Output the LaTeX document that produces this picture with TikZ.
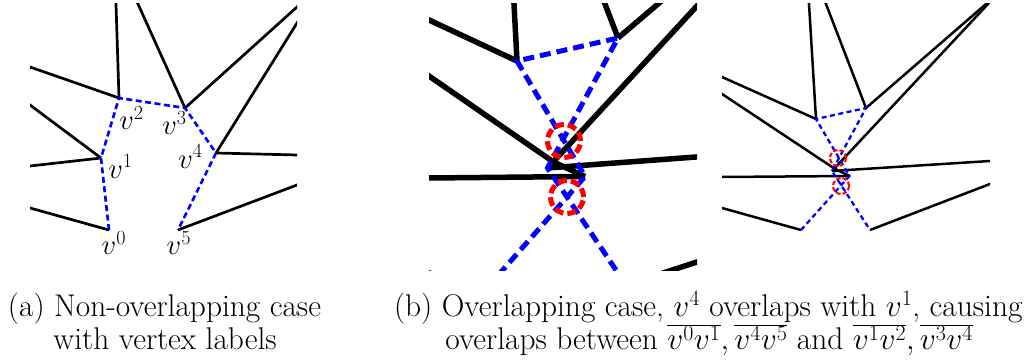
\RequirePackage{fix-cm}
\documentclass[tikz,border=0pt]{standalone}
\usetikzlibrary{calc}
\begin{document}
\begin{tikzpicture}[x=1pt,y=-1pt,
  every node/.style={inner sep=0pt,outer sep=0pt,font=\fontsize{28.7}{34.4}\selectfont},
  captext/.style={font=\fontsize{31.4}{37.7}\selectfont},
  edgeA/.style={line width=2.7pt,black},
  dashA/.style={line width=2.6pt,blue,dash pattern=on 6pt off 3.5pt},
  edgeB/.style={line width=5.5pt,black},
  dashB/.style={line width=5pt,blue,dash pattern=on 11pt off 6pt},
  ringB/.style={line width=5pt,red,dash pattern=on 9pt off 4pt},
  edgeC/.style={line width=2.5pt,black},
  dashC/.style={line width=2.3pt,blue,dash pattern=on 5pt off 3.5pt},
  ringC/.style={line width=2pt,red,dash pattern=on 4.5pt off 2pt}]
\useasboundingbox (0,0) rectangle (1034,363);

% ---------------- panel (a) ----------------
\begin{scope}
\clip (30,4) rectangle (297,272);
\coordinate (a0) at (109,230);
\coordinate (a1) at (101,158);
\coordinate (a2) at (119,98);
\coordinate (a3) at (185,108);
\coordinate (a4) at (216,153);
\coordinate (a5) at (178,230);
\coordinate (a2t) at (116,4);
\coordinate (a2l) at (30,67);
\coordinate (a3t) at (138,4);
\coordinate (a3r) at (297,7);
\coordinate (a4t) at (297,23);
\coordinate (a4r) at (297,155);
\coordinate (a1u) at (30,105);
\coordinate (a1l) at (30,166);
\coordinate (a0l) at (30,208);
\coordinate (a5r) at (297,185);
\foreach \s/\e in {a2/a2t,a2/a2l,a3/a3t,a3/a3r,a4/a4t,a4/a4r,a1/a1u,a1/a1l,a0/a0l,a5/a5r}
  \draw[edgeA] (\s) -- ($(\s)!1.15!(\e)$);
\draw[dashA] (a0) -- (a1) -- (a2) -- (a3) -- (a4) -- (a5);
\end{scope}
\node[anchor=base west] (l0) at (101.7,255) {$v^0$};
\node[anchor=base west] (l1) at (108.3,178.3) {$v^1$};
\node[anchor=base west] (l2) at (119.3,130) {$v^2$};
\node[anchor=base west] (l3) at (162.3,135) {$v^3$};
\node[anchor=base west] (l4) at (178.3,168.3) {$v^4$};
\node[anchor=base west] (l5) at (166.7,255) {$v^5$};

% ---------------- panel (b) left: zoomed ----------------
\begin{scope}
\clip (429,4) rectangle (697,271);
\coordinate (bA) at (517,61);
\coordinate (bB) at (618,38);
\coordinate (bP) at (547.5,168);
\coordinate (bQ) at (553.5,162);
\coordinate (bR) at (585,176.5);
\coordinate (b0) at (487,288);
\coordinate (b5) at (626,285);
\coordinate (bAt) at (514,4);
\coordinate (bAl) at (429,20);
\coordinate (bBt) at (605,4);
\coordinate (bBr) at (658,4);
\coordinate (bPt) at (696,7);
\coordinate (bPr) at (696,157);
\coordinate (bQl) at (429,76);
\coordinate (bRl) at (429,178);
\coordinate (b0l) at (429,273);
\coordinate (b5r) at (697,262);
\foreach \s/\e in {bA/bAt,bA/bAl,bB/bBt,bB/bBr,bP/bPt,bP/bPr,bQ/bQl,bR/bRl,b0/b0l,b5/b5r}
  \draw[edgeB] (\s) -- ($(\s)!1.15!(\e)$);
\draw[edgeB] (bQ) -- (bR);
\draw[dashB] (b0) -- (bR) -- (bA) -- (bB) -- (bP) -- (b5);
\coordinate (bc1) at (564,141);
\coordinate (bc2) at (567,197);
\draw[ringB] (bc1) circle[radius=16.5pt];
\draw[ringB] (bc2) circle[radius=16.5pt];
\end{scope}

% ---------------- panel (b) right ----------------
\begin{scope}
\clip (722,4) rectangle (990,272);
\coordinate (cA) at (816,119);
\coordinate (cB) at (866,108);
\coordinate (cP) at (832,171);
\coordinate (cQ) at (834.3,168.5);
\coordinate (cR) at (849.5,176);
\coordinate (c0) at (801,230);
\coordinate (c5) at (870,230);
\coordinate (cAt) at (809,4);
\coordinate (cAl) at (722,77);
\coordinate (cBt) at (826,4);
\coordinate (cBr) at (986,4);
\coordinate (cPt) at (988,4);
\coordinate (cPr) at (990,161);
\coordinate (cQl) at (722,94);
\coordinate (cRl) at (722,177);
\coordinate (c0l) at (722,208);
\coordinate (c5r) at (990,184);
\foreach \s/\e in {cA/cAt,cA/cAl,cB/cBt,cB/cBr,cP/cPt,cP/cPr,cQ/cQl,cR/cRl,c0/c0l,c5/c5r}
  \draw[edgeC] (\s) -- ($(\s)!1.15!(\e)$);
\draw[edgeC] (cQ) -- (cR);
\draw[dashC] (c0) -- (cR) -- (cA) -- (cB) -- (cP) -- (c5);
\coordinate (cc1) at (838,158);
\coordinate (cc2) at (841,186);
\draw[ringC] (cc1) circle[radius=8pt];
\draw[ringC] (cc2) circle[radius=8pt];
\end{scope}

% ---------------- captions ----------------
\node[captext,anchor=base] (capa1) at (164.5,316.7) {(a) Non-overlapping case};
\node[captext,anchor=base] (capa2) at (165,350) {with vertex labels};
\node[captext,anchor=base] (capb1) at (708.3,316.7) {(b) Overlapping case, $v^4$ overlaps with $v^1$, causing};
\node[captext,anchor=base] (capb2) at (709.2,350) {overlaps between $\overline{v^0v^1}, \overline{v^4v^5}$ and $\overline{v^1v^2}, \overline{v^3v^4}$};
\end{tikzpicture}
\end{document}
